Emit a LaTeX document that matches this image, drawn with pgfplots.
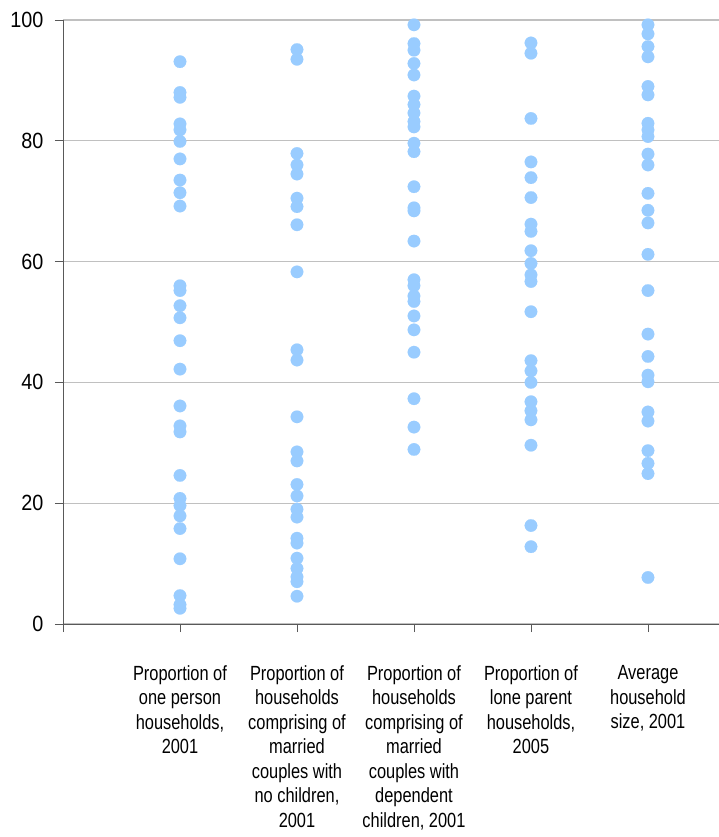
\documentclass[border=0pt]{standalone}
\usepackage{pgfplots}
\pgfplotsset{compat=1.18}
\usepackage{fontspec}
\setmainfont{Liberation Sans}
\newfontfamily\tickfont{Liberation Sans}[FakeStretch=0.9]
\newfontfamily\labfont{Liberation Sans}[FakeStretch=0.8]
\definecolor{dotblue}{HTML}{99CCFF}
\definecolor{gridgray}{HTML}{C0C0C0}
\definecolor{axisgray}{HTML}{595959}
\pgfplotsset{dots/.style={only marks, mark=*, mark size=6.3bp, color=dotblue, mark options={solid, draw=dotblue, fill=dotblue, line width=0.1bp}}}
\begin{document}
\begin{tikzpicture}
\begin{axis}[
  at={(0,0)}, anchor=south west,
  scale only axis=true,
  width=656bp, height=604bp,
  xmin=0, xmax=5.607, ymin=0, ymax=100,
  axis x line*=bottom, axis y line*=left,
  axis line style={axisgray, line width=0.8bp},
  xtick={0,1,2,3,4,5},
  xticklabels={,
    {Proportion of\\one person\\households,\\2001},
    {Proportion of\\households\\comprising of\\married\\couples with\\no children,\\2001},
    {Proportion of\\households\\comprising of\\married\\couples with\\dependent\\children, 2001},
    {Proportion of\\lone parent\\households,\\2005},
    {Average\\household\\size, 2001}},
  x tick label style={align=center, font=\labfont\fontsize{20.5bp}{24.5bp}\selectfont, anchor=north, yshift=-30bp},
  ytick={0,20,40,60,80,100},
  y tick label style={font=\tickfont\fontsize{22bp}{26bp}\selectfont, xshift=-8bp},
  /pgf/number format/assume math mode=true,
  tick align=outside,
  major tick length=8bp,
  tick style={axisgray, line width=0.8bp},
  ymajorgrids=true,
  grid style={gridgray, line width=1.3bp},
  clip=false,
]
\addplot[dots] coordinates {
(1,93.1) (1,88.0) (1,87.2) (1,82.8) (1,81.8) (1,79.9) (1,77.0) (1,73.5) (1,71.4) (1,69.2)
(1,56.0) (1,55.2) (1,52.7) (1,50.7) (1,46.9) (1,42.2) (1,36.1) (1,32.8) (1,31.8) (1,24.6)
(1,20.8) (1,19.6) (1,17.9) (1,15.8) (1,10.8) (1,4.7) (1,3.2) (1,2.6)};
\addplot[dots] coordinates {
(2,95.1) (2,93.5) (2,77.9) (2,76.0) (2,74.5) (2,70.5) (2,69.1) (2,66.1) (2,58.3) (2,45.4)
(2,43.7) (2,34.3) (2,28.5) (2,27.0) (2,23.1) (2,21.2) (2,19.0) (2,17.7) (2,14.2) (2,13.4)
(2,10.9) (2,9.2) (2,7.8) (2,7.0) (2,4.6)};
\addplot[dots] coordinates {
(3,99.2) (3,96.1) (3,95.0) (3,92.8) (3,90.9) (3,87.4) (3,86.0) (3,84.6) (3,83.2) (3,82.3)
(3,79.6) (3,78.2) (3,72.4) (3,68.9) (3,68.4) (3,63.4) (3,57.0) (3,56.0) (3,54.3) (3,53.4)
(3,51.0) (3,48.7) (3,45.0) (3,37.3) (3,32.6) (3,28.9)};
\addplot[dots] coordinates {
(4,96.2) (4,94.5) (4,83.7) (4,76.5) (4,73.9) (4,70.6) (4,66.2) (4,65.0) (4,61.8) (4,59.7)
(4,57.8) (4,56.7) (4,51.7) (4,43.6) (4,41.9) (4,40.0) (4,36.8) (4,35.3) (4,33.8) (4,29.6)
(4,16.3) (4,12.8)};
\addplot[dots] coordinates {
(5,99.2) (5,97.7) (5,95.6) (5,93.9) (5,89.0) (5,87.6) (5,82.9) (5,81.8) (5,80.7) (5,77.8)
(5,76.0) (5,71.3) (5,68.5) (5,66.4) (5,61.2) (5,55.2) (5,48.0) (5,44.3) (5,41.2) (5,40.1)
(5,35.1) (5,33.6) (5,28.7) (5,26.6) (5,24.9) (5,7.7)};
\end{axis}
\pgfresetboundingbox
\useasboundingbox (-63bp,-213bp) rectangle (656bp,624bp);
\end{tikzpicture}
\end{document}
